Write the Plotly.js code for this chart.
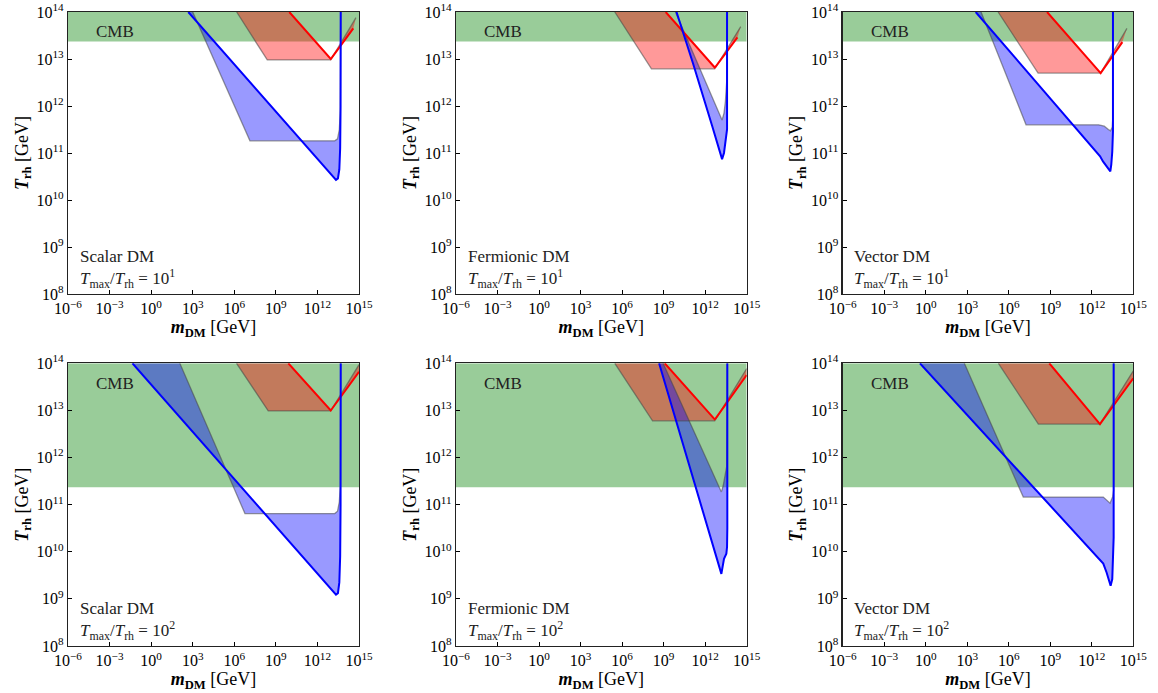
<!DOCTYPE html>
<html><head><meta charset="utf-8">
<script src="https://cdn.plot.ly/plotly-3.0.1.min.js"></script>
<style>html,body{margin:0;padding:0;background:#fff}#chart{width:1158px;height:693px}</style>
</head><body><div id="chart"></div><script>
// ---- axis settings (log10 exponents) ----
const xRangeExp = [-6, 15];
const yRangeExp = [8, 14];
const xTickExp = [-6, -3, 0, 3, 6, 9, 12, 15];
const yTickExp = [8, 9, 10, 11, 12, 13, 14];

// ---- panel labels ----
const panelNames = ['Scalar DM', 'Fermionic DM', 'Vector DM', 'Scalar DM', 'Fermionic DM', 'Vector DM'];
const ratioExp = [1, 1, 1, 2, 2, 2];
// CMB bound on T_rh (log10 GeV), per panel
const cmbLogT = [13.37, 13.37, 13.37, 11.37, 11.37, 11.37];

// ---- Panel 1: Scalar, Tmax/Trh = 10^1 (log10 m, log10 T) ----
const p1BlueLineM = [2.68, 13.0, 13.2, 13.34, 13.48, 13.58, 13.64, 13.67, 13.68];
const p1BlueLineT = [14.0, 10.56, 10.48, 10.43, 10.46, 10.65, 11.1, 12.0, 14.0];
const p1BlueEdgeM = [3.0, 7.13, 13.25, 13.45, 13.58, 13.65, 13.68];
const p1BlueEdgeT = [14.0, 11.26, 11.26, 11.3, 11.5, 11.9, 14.0];
const p1RedLineM = [9.97, 12.88, 12.96, 13.04, 14.59];
const p1RedLineT = [14.0, 13.03, 13.0, 13.03, 13.65];
const p1RedEdgeM = [6.17, 8.38, 12.96, 14.78];
const p1RedEdgeT = [14.0, 12.98, 12.98, 13.88];

// ---- Panel 2: Fermionic, 10^1 ----
const p2BlueLineM = [9.93, 11.13, 12.5, 13.1, 13.22, 13.36, 13.46, 13.53, 13.58, 13.58];
const p2BlueLineT = [14.0, 12.9, 11.58, 11.0, 10.87, 11.0, 11.24, 11.35, 11.5, 14.0];
const p2BlueEdgeM = [9.85, 13.22, 13.36, 13.46, 13.55, 13.58];
const p2BlueEdgeT = [14.0, 11.7, 11.85, 12.09, 12.5, 14.0];
const p2RedLineM = [9.15, 12.62, 12.69, 12.76, 14.33];
const p2RedLineT = [14.0, 12.84, 12.82, 12.84, 13.46];
const p2RedEdgeM = [5.47, 8.12, 12.69, 14.57];
const p2RedEdgeT = [14.0, 12.79, 12.79, 13.69];

// ---- Panel 3: Vector, 10^1 ----
const p3BlueLineM = [3.61, 12.33, 12.6, 12.81, 13.0, 13.17, 13.28, 13.34, 13.41, 13.48, 13.53, 13.53];
const p3BlueLineT = [14.0, 11.03, 10.93, 10.82, 10.74, 10.67, 10.62, 10.61, 10.76, 11.03, 11.45, 14.0];
const p3BlueEdgeM = [4.0, 7.25, 12.5, 12.9, 13.2, 13.35, 13.48, 13.53, 13.53];
const p3BlueEdgeT = [14.0, 11.6, 11.6, 11.57, 11.5, 11.47, 11.55, 11.8, 14.0];
const p3RedLineM = [8.77, 12.64, 14.21];
const p3RedLineT = [14.0, 12.7, 13.36];
const p3RedEdgeM = [5.23, 8.12, 12.64, 14.54];
const p3RedEdgeT = [14.0, 12.7, 12.7, 13.65];

// ---- Panel 4: Scalar, 10^2 ----
const p4BlueLineM = [-1.35, 13.0, 13.2, 13.34, 13.48, 13.58, 13.64, 13.67, 13.68];
const p4BlueLineT = [14.0, 9.21, 9.14, 9.09, 9.12, 9.35, 9.9, 11.0, 14.0];
const p4BlueEdgeM = [2.07, 6.77, 13.25, 13.45, 13.58, 13.65, 13.68];
const p4BlueEdgeT = [14.0, 10.81, 10.81, 10.86, 11.06, 11.4, 14.0];
const p4RedLineM = [9.9, 12.88, 12.96, 13.04, 15.0];
const p4RedLineT = [14.0, 13.03, 13.0, 13.03, 13.82];
const p4RedEdgeM = [6.16, 8.45, 12.96, 15.0];
const p4RedEdgeT = [14.0, 12.99, 12.99, 13.97];

// ---- Panel 5: Fermionic, 10^2 ----
const p5BlueLineM = [8.67, 11.13, 13.05, 13.17, 13.36, 13.53, 13.58, 13.6, 13.6];
const p5BlueLineT = [14.0, 11.56, 9.65, 9.53, 9.85, 9.96, 10.1, 10.5, 14.0];
const p5BlueEdgeM = [8.96, 13.17, 13.3, 13.41, 13.55, 13.6];
const p5BlueEdgeT = [14.0, 11.27, 11.4, 11.55, 11.8, 14.0];
const p5RedLineM = [9.08, 12.62, 12.69, 12.76, 15.0];
const p5RedLineT = [14.0, 12.83, 12.81, 12.83, 13.75];
const p5RedEdgeM = [5.47, 8.2, 12.69, 15.0];
const p5RedEdgeT = [14.0, 12.78, 12.78, 13.89];

// ---- Panel 6: Vector, 10^2 ----
const p6BlueLineM = [-0.42, 12.47, 12.83, 13.07, 13.27, 13.36, 13.48, 13.56, 13.58, 13.58];
const p6BlueLineT = [14.0, 9.86, 9.75, 9.56, 9.37, 9.28, 9.42, 9.9, 10.3, 14.0];
const p6BlueEdgeM = [2.79, 7.05, 12.83, 13.2, 13.32, 13.51, 13.58, 13.58];
const p6BlueEdgeT = [14.0, 11.16, 11.16, 11.06, 11.03, 11.17, 11.3, 14.0];
const p6RedLineM = [8.93, 12.59, 15.0];
const p6RedLineT = [14.0, 12.71, 13.68];
const p6RedEdgeM = [5.25, 8.14, 12.59, 15.0];
const p6RedEdgeT = [14.0, 12.71, 12.71, 13.84];

// ---- assemble ----
const blueLineM = [p1BlueLineM, p2BlueLineM, p3BlueLineM, p4BlueLineM, p5BlueLineM, p6BlueLineM];
const blueLineT = [p1BlueLineT, p2BlueLineT, p3BlueLineT, p4BlueLineT, p5BlueLineT, p6BlueLineT];
const blueEdgeM = [p1BlueEdgeM, p2BlueEdgeM, p3BlueEdgeM, p4BlueEdgeM, p5BlueEdgeM, p6BlueEdgeM];
const blueEdgeT = [p1BlueEdgeT, p2BlueEdgeT, p3BlueEdgeT, p4BlueEdgeT, p5BlueEdgeT, p6BlueEdgeT];
const redLineM = [p1RedLineM, p2RedLineM, p3RedLineM, p4RedLineM, p5RedLineM, p6RedLineM];
const redLineT = [p1RedLineT, p2RedLineT, p3RedLineT, p4RedLineT, p5RedLineT, p6RedLineT];
const redEdgeM = [p1RedEdgeM, p2RedEdgeM, p3RedEdgeM, p4RedEdgeM, p5RedEdgeM, p6RedEdgeM];
const redEdgeT = [p1RedEdgeT, p2RedEdgeT, p3RedEdgeT, p4RedEdgeT, p5RedEdgeT, p6RedEdgeT];

const pw = a => a.map(v => Math.pow(10, v));
const polyX = (eM, lM) => pw(eM.concat(lM.slice().reverse()));
const polyY = (eT, lT) => pw(eT.concat(lT.slice().reverse()));
const sup = e => '10<sup>' + (e < 0 ? '\u2212' + (-e) : e) + '</sup>';

const FONT = 'Liberation Serif, Times New Roman, serif';
const xDomains = [[0.05872, 0.31002], [0.39378, 0.64482], [0.72772, 0.97867]];
const yDomains = [[0.57576, 0.98268], [0.06782, 0.47576]];

const traces = [];
const annotations = [];
const layout = {
  width: 1158, height: 693,
  margin: {l: 0, r: 0, t: 0, b: 0},
  paper_bgcolor: '#fff', plot_bgcolor: '#fff',
  showlegend: false,
  font: {family: FONT, color: '#000'}
};

for (let i = 0; i < 6; i++) {
  const s = i === 0 ? '' : String(i + 1);
  const xa = 'x' + s, ya = 'y' + s;
  const common = {xaxis: xa, yaxis: ya, hoverinfo: 'skip', showlegend: false};

  // CMB band
  traces.push(Object.assign({
    type: 'scatter', mode: 'lines', fill: 'toself',
    x: pw([xRangeExp[0], xRangeExp[1], xRangeExp[1], xRangeExp[0]]),
    y: pw([cmbLogT[i], cmbLogT[i], yRangeExp[1], yRangeExp[1]]),
    fillcolor: 'rgba(0,128,0,0.4)', line: {width: 0, color: 'rgba(0,0,0,0)'}
  }, common));
  // red shaded region
  traces.push(Object.assign({
    type: 'scatter', mode: 'lines', fill: 'toself',
    x: polyX(redEdgeM[i], redLineM[i]), y: polyY(redEdgeT[i], redLineT[i]),
    fillcolor: 'rgba(255,0,0,0.4)', line: {width: 0, color: 'rgba(0,0,0,0)'}
  }, common));
  // blue shaded region
  traces.push(Object.assign({
    type: 'scatter', mode: 'lines', fill: 'toself',
    x: polyX(blueEdgeM[i], blueLineM[i]), y: polyY(blueEdgeT[i], blueLineT[i]),
    fillcolor: 'rgba(0,0,255,0.4)', line: {width: 0, color: 'rgba(0,0,0,0)'}
  }, common));
  // gray edges
  traces.push(Object.assign({
    type: 'scatter', mode: 'lines', x: pw(redEdgeM[i]), y: pw(redEdgeT[i]),
    line: {width: 1.3, color: 'rgba(70,70,70,0.55)'}
  }, common));
  traces.push(Object.assign({
    type: 'scatter', mode: 'lines', x: pw(blueEdgeM[i]), y: pw(blueEdgeT[i]),
    line: {width: 1.3, color: 'rgba(70,70,70,0.55)'}
  }, common));
  // lines
  traces.push(Object.assign({
    type: 'scatter', mode: 'lines', x: pw(redLineM[i]), y: pw(redLineT[i]),
    line: {width: 2, color: '#ff0000'}
  }, common));
  traces.push(Object.assign({
    type: 'scatter', mode: 'lines', x: pw(blueLineM[i]), y: pw(blueLineT[i]),
    line: {width: 2, color: '#0000ff'}
  }, common));

  const col = i % 3, row = Math.floor(i / 3);
  const axCommon = {
    type: 'log', showgrid: false, zeroline: false,
    showline: true, mirror: true, linecolor: '#222', linewidth: 1.2,
    ticks: 'inside', ticklen: 4, tickwidth: 1, tickcolor: '#000',
    tickfont: {family: FONT, size: 16, color: '#000'}, fixedrange: true
  };
  layout['xaxis' + s] = Object.assign({}, axCommon, {
    domain: xDomains[col], anchor: ya,
    range: xRangeExp.slice(),
    tickmode: 'array', tickvals: pw(xTickExp), ticktext: xTickExp.map(sup),
    title: {text: '<b><i>m</i></b><sub><b>DM</b></sub> [GeV]', font: {family: FONT, size: 18, color: '#000'}, standoff: 4}
  });
  layout['yaxis' + s] = Object.assign({}, axCommon, {
    domain: yDomains[row], anchor: xa,
    range: yRangeExp.slice(),
    tickmode: 'array', tickvals: pw(yTickExp), ticktext: yTickExp.map(sup),
    title: {text: '<b><i>T</i></b><sub><b>rh</b></sub> [GeV]', font: {family: FONT, size: 18, color: '#000'}, standoff: 3}
  });

  annotations.push({
    xref: xa + ' domain', yref: ya + ' domain', x: 0.163, y: 0.93,
    xanchor: 'center', yanchor: 'middle', showarrow: false,
    text: 'CMB', font: {family: FONT, size: 17, color: '#222'}
  });
  annotations.push({
    xref: xa + ' domain', yref: ya + ' domain', x: 0.033, y: 0.004,
    xanchor: 'left', yanchor: 'bottom', align: 'left', showarrow: false,
    text: panelNames[i] + '<br><i>T</i><sub>max</sub>/<i>T</i><sub>rh</sub> = 10<sup>' + ratioExp[i] + '</sup>',
    font: {family: FONT, size: 17, color: '#222'}
  });
}
layout.annotations = annotations;

Plotly.newPlot('chart', traces, layout, {displayModeBar: false, staticPlot: true});
</script></body></html>
